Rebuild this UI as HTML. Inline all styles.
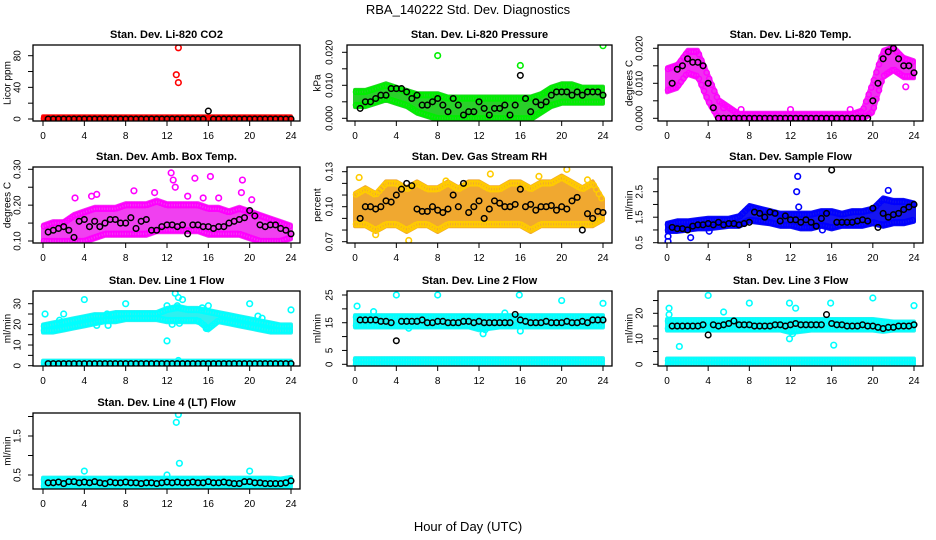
<!DOCTYPE html>
<html><head><meta charset="utf-8">
<style>
html,body{margin:0;padding:0;background:#fff;}
svg{display:block;font-family:"Liberation Sans",Arial,sans-serif;}
</style></head>
<body>
<svg id="chart" width="936" height="540" viewBox="0 0 936 540" xmlns="http://www.w3.org/2000/svg">
<text x="468" y="14" text-anchor="middle" font-size="13">RBA_140222  Std. Dev. Diagnostics</text>
<text x="468" y="531" text-anchor="middle" font-size="13">Hour of Day (UTC)</text>
</svg>
<script>
// ---- data ----
const xTicks = [0,4,8,12,16,20,24];
const meanHours = [];
for (let i=1;i<=48;i++) meanHours.push(i*0.5);

const co2Lo = [0,0,0,0,0,0,0,0,0,0,0,0,0,0,0,0,0,0,0,0,0,0,0,0,0];
const co2Hi = [1,1,1,1,1,1,1,1,1,1,1,1,1,1,1,1,1,1,1,1,1,1,1,1,1];
const co2Mean = [0,0,0,0,0,0,0,0,0,0,0,0,0,0,0,0,0,0,0,0,0,0,0,0,0,0,0,0,0,0,0,10,0,0,0,0,0,0,0,0,0,0,0,0,0,0,0,0];
const co2Out = [[13.1,90],[12.9,56],[13.1,46]];

const presLo = [.004,.004,.005,.006,.005,.004,.002,.001,0,0,0,0,0,0,0,0,0,0,.002,.004,.005,.005,.005,.005,.005];
const presHi = [.008,.008,.009,.010,.009,.008,.007,.007,.007,.006,.006,.006,.006,.006,.006,.006,.006,.006,.007,.009,.010,.010,.009,.009,.009];
const presMean = [.003,.005,.005,.006,.007,.007,.009,.009,.009,.008,.006,.007,.004,.004,.005,.006,.004,.002,.006,.004,.001,.002,.002,.005,.003,.001,.003,.003,.004,.001,.004,.013,.006,.002,.005,.004,.005,.007,.008,.008,.008,.007,.008,.007,.008,.008,.008,.007];
const presOut = [[8,.019],[16,.016],[24,.022]];

const tempLo = [.008,.009,.013,.012,.005,0,0,0,0,0,0,0,0,0,0,0,0,0,0,0,.002,.012,.014,.012,.012];
const tempHi = [.014,.015,.019,.019,.012,.005,.003,.001,.001,.001,.001,.001,.001,.001,.001,.001,.001,.001,.001,.002,.010,.019,.020,.017,.016];
const tempMean = [.010,.014,.015,.017,.016,.016,.015,.010,.003,0,0,0,0,0,0,0,0,0,0,0,0,0,0,0,0,0,0,0,0,0,0,0,0,0,0,0,0,0,0,.005,.010,.017,.019,.020,.017,.015,.015,.013];
const tempOut = [[5.5,.003],[7.2,.0025],[12,.0025],[17.8,.0025],[23.2,.009]];

const ambLo = [.10,.10,.10,.10,.10,.11,.12,.12,.12,.12,.12,.13,.13,.13,.13,.13,.12,.12,.12,.12,.11,.10,.10,.10,.11];
const ambHi = [.14,.15,.15,.17,.18,.19,.19,.19,.20,.20,.20,.21,.20,.20,.20,.20,.19,.19,.18,.19,.18,.17,.16,.15,.14];
const ambMean = [.125,.13,.135,.14,.13,.11,.155,.16,.14,.155,.14,.15,.16,.16,.15,.15,.165,.135,.155,.16,.13,.13,.14,.145,.145,.14,.145,.12,.145,.145,.14,.14,.135,.14,.14,.15,.155,.16,.165,.185,.17,.145,.14,.145,.145,.135,.13,.12];
const ambOut = [[4.7,.225],[5.2,.23],[12.4,.29],[12.6,.27],[12.8,.25],[14.7,.275],[16.2,.28],[19.3,.27],[19.2,.235],[8.8,.24],[10.8,.235],[17,.22],[20.2,.215],[3.1,.22],[14,.225],[15.5,.22]];

const rhLo = [.085,.085,.08,.085,.085,.08,.085,.085,.08,.085,.085,.085,.085,.085,.085,.085,.085,.08,.085,.085,.085,.085,.085,.085,.09];
const rhHi = [.11,.115,.11,.12,.12,.115,.12,.115,.115,.12,.115,.12,.12,.115,.115,.12,.12,.115,.12,.12,.125,.12,.115,.12,.105];
const rhMean = [.09,.10,.10,.098,.10,.105,.104,.11,.115,.12,.118,.098,.096,.096,.10,.097,.095,.098,.11,.10,.12,.095,.10,.105,.09,.098,.105,.103,.10,.10,.102,.115,.10,.102,.097,.10,.10,.101,.097,.10,.098,.105,.108,.08,.094,.09,.096,.095];
const rhOut = [[0.4,.125],[5.2,.071],[2,.076],[16.2,.14],[13.1,.128],[20.5,.132],[17.8,.126],[8.8,.122],[22.5,.123]];

const flowLo = [1.0,1.0,1.05,1.1,1.1,1.15,1.2,1.2,1.4,1.35,1.3,1.2,1.2,1.1,1.1,1.2,1.1,1.2,1.2,1.2,1.3,1.2,1.3,1.3,1.4];
const flowHi = [1.2,1.3,1.3,1.35,1.4,1.4,1.4,1.5,1.9,1.8,1.7,1.6,1.6,1.6,1.6,1.7,1.7,1.6,1.7,1.7,1.8,2.2,2.1,2.1,2.0];
const flowMean = [1.1,1.05,1.05,1.0,1.15,1.2,1.2,1.25,1.2,1.3,1.2,1.25,1.25,1.2,1.25,1.3,1.7,1.65,1.5,1.7,1.65,1.35,1.55,1.4,1.4,1.3,1.4,1.3,1.15,1.45,1.65,3.35,1.3,1.3,1.3,1.3,1.35,1.4,1.35,1.85,1.1,1.65,1.5,1.6,1.65,1.8,1.9,2.0];
const flowOut = [[0.1,0.55],[0.1,0.75],[2.3,0.7],[4.1,0.95],[12.7,3.1],[12.6,2.5],[12.8,1.9],[15.1,1.0],[21.5,2.55]];

const l1Lo = [17,17,18,19,20,21,22,22,23,23,23,23,22,22,22,22,18,22,21,20,19,18,17,17,17];
const l1Hi = [19,20,21,22,23,24,24,25,25,25,25,25,27,28,27,27,26,25,24,23,22,21,20,19,19];
const l1Mean = [1,1,1,1,1,1,1,1,1,1,1,1,1,1,1,1,1,1,1,1,1,1,1,1,1,1,1,1,1,1,1,1,1,1,1,1,1,1,1,1,1,1,1,1,1,1,1,1];
const l1Out = [[0.2,25],[1.6,22],[2,25],[4,32],[6.2,25],[8,30],[5.2,19.5],[6.3,19.5],[12,12],[12,29],[12.8,35],[13.1,33],[13.5,32],[13,29],[12.5,20],[13.2,20.5],[15.4,28],[16,29],[15,21.5],[15.8,18],[20,30],[20.8,24],[21.2,23],[24,27],[13.1,2.5]];

const l2Lo = [14,14,14,14,14,14,14,14,14,14,14,14,13,13.5,14,14,14,14,14,14,14,14,14,14,14];
const l2Hi = [17,17,17,17,17,17,17,17,17,17,17,17,17,17,17,17,17,17,17,17,17,17,17,17,17];
const l2Mean = [16,16,16,16,15.5,15.5,15,8.5,15.5,15.5,15.5,15.5,16,15,15,15.5,15.5,15,15,15,15.5,15.5,15,15.5,15,15,15,15,15,15,18,16,15.5,15,15,15,15.5,15,15,15,15.5,15,15,15.5,15,16,16,16];
const l2Out = [[0.2,21],[1.8,19],[4,25],[8,25],[12.4,11],[12.6,12.5],[16,12],[15.9,25],[20,23],[24,22],[14.5,18.5],[5.2,13]];

const l3Lo = [14,14,14,14,14,14,14,14,14,14,14,14,13,13.5,14,14,14,14,14,14,14,13.5,14,14,14];
const l3Hi = [17,17,17,17,17,17,17,17,17,17,17,17,17,17,17,17,17,17,17,17,17,16.5,16,16,16];
const l3Mean = [15,15,15,15,15,15,15.5,11.5,15.5,15,15.5,16,17,15.5,15.5,15.5,15,15,15,15,15.5,15.5,15,15.5,16,15.5,15.5,15.5,15.5,15.5,19.5,16,15.5,15.5,15,15,15,15.5,15,15,14.5,14,14.5,14.5,15,15,15,15.5];
const l3Out = [[0.2,22],[0.2,19.5],[1.2,7],[4,27],[5.5,20.5],[8,24],[11.9,24],[12.2,12],[11.9,10],[12.5,22],[15.9,24],[16.2,7.5],[20,26],[24,23]];

const lowLo = [0,0,0,0,0,0,0,0,0,0,0,0,0,0,0,0,0,0,0,0,0,0,0,0,0];
const lowHi = [1.5,1.5,1.5,1.5,1.5,1.5,1.5,1.5,1.5,1.5,1.5,1.5,1.5,1.5,1.5,1.5,1.5,1.5,1.5,1.5,1.5,1.5,1.5,1.5,1.5];

const l4Lo = [.22,.22,.22,.22,.22,.22,.22,.22,.22,.22,.22,.22,.22,.22,.22,.22,.22,.22,.22,.22,.22,.22,.22,.22,.24];
const l4Hi = [.38,.38,.38,.38,.38,.38,.38,.38,.38,.38,.38,.38,.38,.38,.38,.38,.38,.38,.38,.38,.38,.38,.38,.36,.40];
const l4Mean = [.3,.3,.32,.28,.33,.33,.3,.32,.3,.33,.3,.28,.32,.3,.3,.32,.3,.3,.28,.3,.3,.28,.3,.32,.3,.32,.3,.3,.32,.3,.3,.33,.3,.3,.32,.3,.28,.28,.33,.33,.3,.3,.28,.28,.28,.28,.3,.35];
const l4Out = [[4,.6],[12,.5],[12.9,1.85],[13.1,2.05],[13.2,.8],[20,.6]];

const co2Ticks=[0,20,40,60,80], co2Labels=["0","","40","","80"];
const presTicks=[0,.005,.010,.015,.020], presLabels=["0.000","","0.010","","0.020"];
const tempTicks=[0,.005,.010,.015,.020], tempLabels=["0.000","","0.010","","0.020"];
const ambTicks=[.10,.15,.20,.25,.30], ambLabels=["0.10","","0.20","","0.30"];
const rhTicks=[.07,.08,.09,.10,.11,.12,.13], rhLabels=["0.07","","","0.10","","","0.13"];
const flowTicks=[.5,1,1.5,2,2.5,3], flowLabels=["0.5","","1.5","","2.5",""];
const l1Ticks=[0,5,10,15,20,25,30], l1Labels=["0","","10","","20","","30"];
const l2Ticks=[0,5,10,15,20,25], l2Labels=["0","5","","15","","25"];
const l3Ticks=[0,5,10,15,20,25], l3Labels=["0","","10","","20",""];
const l4Ticks=[.5,1,1.5,2], l4Labels=["0.5","","1.5",""];

// ---- layout ----
const cols=[{l:33,r:300,x0:43,x24:291,tl:18,yl:8},{l:347,r:612,x0:355,x24:603,tl:330,yl:318},{l:658,r:923,x0:667,x24:914,tl:640,yl:630}];
const rows=[{t:45,b:121},{t:167,b:243},{t:291,b:366},{t:413,b:489}];
const panels=[
 {id:'co2',c:0,r:0,title:'Stan. Dev. Li-820 CO2',ylab:'Licor ppm',yv:[0,80],yp:[119,55.7],ticks:co2Ticks,labels:co2Labels,col:'#ff0000',fill:'#ff2020',lo:co2Lo,hi:co2Hi,mean:co2Mean,out:co2Out},
 {id:'pressure',c:1,r:0,title:'Stan. Dev. Li-820 Pressure',ylab:'kPa',yv:[0,.02],yp:[118.3,52.3],ticks:presTicks,labels:presLabels,col:'#00ee00',fill:'#2ad02a',lo:presLo,hi:presHi,mean:presMean,out:presOut},
 {id:'li820-temp',c:2,r:0,title:'Stan. Dev. Li-820 Temp.',ylab:'degrees C',yv:[0,.02],yp:[118.3,48.3],ticks:tempTicks,labels:tempLabels,col:'#ff00ff',fill:'#f030f0',lo:tempLo,hi:tempHi,mean:tempMean,out:tempOut},
 {id:'amb-box-temp',c:0,r:1,title:'Stan. Dev. Amb. Box Temp.',ylab:'degrees C',yv:[.1,.3],yp:[241,169.3],ticks:ambTicks,labels:ambLabels,col:'#ff00ff',fill:'#f040f0',lo:ambLo,hi:ambHi,mean:ambMean,out:ambOut},
 {id:'gas-stream-rh',c:1,r:1,title:'Stan. Dev. Gas Stream RH',ylab:'percent',yv:[.07,.13],yp:[241.7,171.7],ticks:rhTicks,labels:rhLabels,col:'#ffcc00',fill:'#f0a830',lo:rhLo,hi:rhHi,mean:rhMean,out:rhOut},
 {id:'sample-flow',c:2,r:1,title:'Stan. Dev. Sample Flow',ylab:'ml/min',yv:[.5,2.5],yp:[242.7,191.7],ticks:flowTicks,labels:flowLabels,col:'#0000ff',fill:'#1515f0',lo:flowLo,hi:flowHi,mean:flowMean,out:flowOut},
 {id:'line1-flow',c:0,r:2,title:'Stan. Dev. Line 1 Flow',ylab:'ml/min',yv:[0,30],yp:[365.7,303.7],ticks:l1Ticks,labels:l1Labels,col:'#00ffff',fill:'#30f0f0',lo:l1Lo,hi:l1Hi,low:true,mean:l1Mean,out:l1Out},
 {id:'line2-flow',c:1,r:2,title:'Stan. Dev. Line 2 Flow',ylab:'ml/min',yv:[0,25],yp:[364.3,295],ticks:l2Ticks,labels:l2Labels,col:'#00ffff',fill:'#30f0f0',lo:l2Lo,hi:l2Hi,low:true,mean:l2Mean,out:l2Out},
 {id:'line3-flow',c:2,r:2,title:'Stan. Dev. Line 3 Flow',ylab:'ml/min',yv:[0,20],yp:[364.3,313.3],ticks:l3Ticks,labels:l3Labels,col:'#00ffff',fill:'#30f0f0',lo:l3Lo,hi:l3Hi,low:true,mean:l3Mean,out:l3Out},
 {id:'line4-flow',c:0,r:3,title:'Stan. Dev. Line 4 (LT) Flow',ylab:'ml/min',yv:[.5,1.5],yp:[475,436],ticks:l4Ticks,labels:l4Labels,col:'#00ffff',fill:'#30f0f0',lo:l4Lo,hi:l4Hi,mean:l4Mean,out:l4Out}
];

const NS='http://www.w3.org/2000/svg';
const svg=document.getElementById('chart');
function mk(tag,attrs,parent){const e=document.createElementNS(NS,tag);for(const k in attrs)e.setAttribute(k,attrs[k]);parent.appendChild(e);return e;}

panels.forEach(p=>{
  const C=cols[p.c],R=rows[p.r];
  const xs=h=>C.x0+h*(C.x24-C.x0)/24;
  const ys=v=>p.yp[0]+(v-p.yv[0])*(p.yp[1]-p.yp[0])/(p.yv[1]-p.yv[0]);
  const g=mk('g',{},svg);
  
  
  const clipId='clip-'+p.id;
  const cp=mk('clipPath',{id:clipId},g);
  mk('rect',{x:C.l,y:R.t,width:C.r-C.l,height:R.b-R.t},cp);
  const plot=mk('g',{'clip-path':'url(#'+clipId+')'},g);
  
  
  function band(lo,hi,col,fill,nm){
    let top=[],bot=[];
    for(let h=0;h<=24;h++){top.push(xs(h)+','+(ys(hi[h])-2));bot.unshift(xs(h)+','+(ys(lo[h])+2));}
    const poly=mk('polygon',{points:top.concat(bot).join(' '),fill:fill,stroke:fill,'stroke-width':4,'stroke-linejoin':'round'},plot);
    
    
    for(let h=0;h<24;h++){
      [0.1,0.35,0.6,0.85].forEach(d=>{
        const hx=h+d;
        const l=lo[h]+(lo[h+1]-lo[h])*d, u=hi[h]+(hi[h+1]-hi[h])*d;
        [l,u].forEach(v=>{
          const c=mk('circle',{cx:xs(hx),cy:ys(v),r:2.6,fill:'none',stroke:col,'stroke-width':1.4},plot);
          
          
        });
      });
    }
  }
  band(p.lo,p.hi,p.col,p.fill,p.id);
  if(p.low) band(lowLo,lowHi,p.col,p.fill,p.id+'-low');
  p.out.forEach(o=>{
    const c=mk('circle',{cx:xs(o[0]),cy:ys(o[1]),r:2.8,fill:'none',stroke:p.col,'stroke-width':1.6},plot);
    
    
  });
  p.mean.forEach((v,i)=>{
    const c=mk('circle',{cx:xs(meanHours[i]),cy:ys(v),r:2.8,fill:'none',stroke:'#000','stroke-width':1.5},plot);
    
    
  });
  const box=mk('rect',{x:C.l,y:R.t,width:C.r-C.l,height:R.b-R.t,fill:'none',stroke:'#000','stroke-width':1.3},g);
  
  
  const t=mk('text',{x:(C.l+C.r)/2,y:R.t-7,'text-anchor':'middle','font-size':11,'font-weight':'bold'},g);
  t.textContent=p.title;
  
  
  mk('line',{x1:xs(0),x2:xs(24),y1:R.b,y2:R.b,stroke:'#000','stroke-width':1},g);
  xTicks.forEach(h=>{
    mk('line',{x1:xs(h),x2:xs(h),y1:R.b,y2:R.b+5,stroke:'#000','stroke-width':1},g);
    const l=mk('text',{x:xs(h),y:R.b+18,'text-anchor':'middle','font-size':10},g);
    l.textContent=h;
    
    
  });
  mk('line',{x1:C.l,x2:C.l,y1:ys(p.ticks[0]),y2:ys(p.ticks[p.ticks.length-1]),stroke:'#000','stroke-width':1},g);
  p.ticks.forEach((v,i)=>{
    const y=ys(v);
    mk('line',{x1:C.l-5,x2:C.l,y1:y,y2:y,stroke:'#000','stroke-width':1},g);
    if(p.labels[i]){
      const l=mk('text',{x:C.tl,y:y,'text-anchor':'middle','font-size':10,transform:'rotate(-90 '+(C.tl)+' '+y+')','dominant-baseline':'middle'},g);
      l.textContent=p.labels[i];
      
      
    }
  });
  const cy=(R.t+R.b)/2;
  const yl=mk('text',{x:C.yl,y:cy,'text-anchor':'middle','font-size':10,transform:'rotate(-90 '+C.yl+' '+cy+')','dominant-baseline':'middle'},g);
  yl.textContent=p.ylab;
  
  
});
</script>
</body></html>
